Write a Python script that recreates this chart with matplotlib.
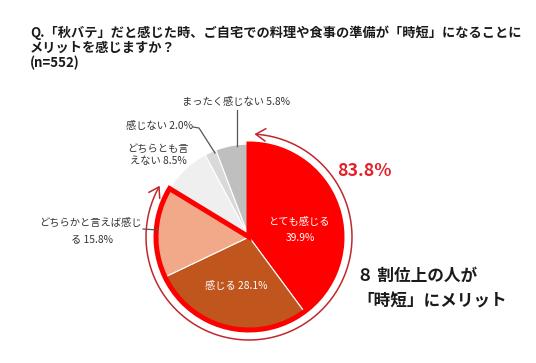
import numpy as np
import matplotlib
matplotlib.use("Agg")
import matplotlib.pyplot as plt
from matplotlib.patches import Wedge, FancyArrowPatch
from matplotlib.path import Path

plt.rcParams['font.family'] = ['Noto Sans CJK JP', 'DejaVu Sans']

categories = ["とても感じる", "感じる", "どちらかと言えば感じる", "どちらとも言えない", "感じない", "まったく感じない"]
values = [39.9, 28.1, 15.8, 8.5, 2.0, 5.8]
colors = ["#FF0000", "#C0561E", "#F2A98A", "#EFEFEF", "#D9D9D9", "#BFBFBF"]
merit_share = "83.8%"
title = "Q.「秋バテ」だと感じた時、ご自宅での料理や食事の準備が「時短」になることに\nメリットを感じますか？\n(n=552)"
callout = "８ 割位上の人が\n「時短」にメリット"

W, H = 536, 363
fig = plt.figure(figsize=(W / 100, H / 100), dpi=100)
ax = fig.add_axes([0, 0, 1, 1])

def Y(y):
    return H - y

cx, cy, r = 249, Y(237), 93
ax.pie(values, colors=colors, startangle=90, counterclock=False,
       center=(cx, cy), radius=r, normalize=True,
       wedgeprops=dict(edgecolor="white", linewidth=0.8))
ax.set_xlim(0, W)
ax.set_ylim(0, H)
ax.set_aspect("equal")
ax.axis('off')

total = sum(values)
frac_top3 = sum(values[:3]) / total
end_angle = 90 - 360 * frac_top3
# red outline around top-3 wedge
outline = Wedge((cx, cy), r, end_angle + 360, 450, fill=False,
                edgecolor="#FF0000", linewidth=3.6, joinstyle="miter")
ax.add_patch(outline)

# outer arc with arrows
ra = 103
th = np.radians(np.linspace(87, end_angle + 1.5, 200))
verts = np.column_stack([cx + ra * np.cos(th), cy + ra * np.sin(th)])
arc = FancyArrowPatch(path=Path(verts), arrowstyle="<->,head_length=0.7,head_width=0.45",
                      mutation_scale=10, color="#C0282D", linewidth=1.1)
ax.add_patch(arc)

lab_fs = 7.4
lab_col = "#333333"
def lbl(i):
    return f"{values[i]:.1f}%"

# inside labels
ax.text(300, Y(222), categories[0], color="white", fontsize=lab_fs, ha="center", va="center")
ax.text(300, Y(238), lbl(0), color="white", fontsize=lab_fs, ha="center", va="center")
ax.text(236, Y(286), f"{categories[1]} {lbl(1)}", color="white", fontsize=lab_fs, ha="center", va="center")

# outside labels
ax.text(236, Y(102), f"{categories[5]} {lbl(5)}", color=lab_col, fontsize=lab_fs, ha="center", va="center")
ax.plot([237, 237], [Y(110), Y(146)], color="#555555", lw=0.9)

ax.text(160, Y(126), f"{categories[4]} {lbl(4)}", color=lab_col, fontsize=lab_fs, ha="center", va="center")
ax.plot([193, 199, 215], [Y(127), Y(128), Y(153)], color="#555555", lw=0.9)

ax.text(158, Y(149), "どちらとも言", color=lab_col, fontsize=lab_fs, ha="center", va="center")
ax.text(158, Y(161), f"えない {lbl(3)}", color=lab_col, fontsize=lab_fs, ha="center", va="center")

ax.text(90, Y(223), "どちらかと言えば感じ", color=lab_col, fontsize=lab_fs, ha="center", va="center")
ax.text(92, Y(239), f"る {lbl(2)}", color=lab_col, fontsize=lab_fs, ha="center", va="center")
ax.plot([143, 158], [Y(229), Y(230)], color="#555555", lw=0.9)

# 83.8%
ax.text(337, Y(171), merit_share, color="#E0202A", fontsize=12.8, fontweight="bold",
        ha="left", va="center")

# callout
ax.text(357, Y(289), callout, color="#1A1A1A", fontsize=12, fontweight="bold",
        ha="left", va="center", linespacing=1.55)

# title
ax.text(30, Y(25), title, color="#1A1A1A", fontsize=9.5, fontweight="bold",
        ha="left", va="top", linespacing=1.12)

fig.savefig("out.png", dpi=100)
